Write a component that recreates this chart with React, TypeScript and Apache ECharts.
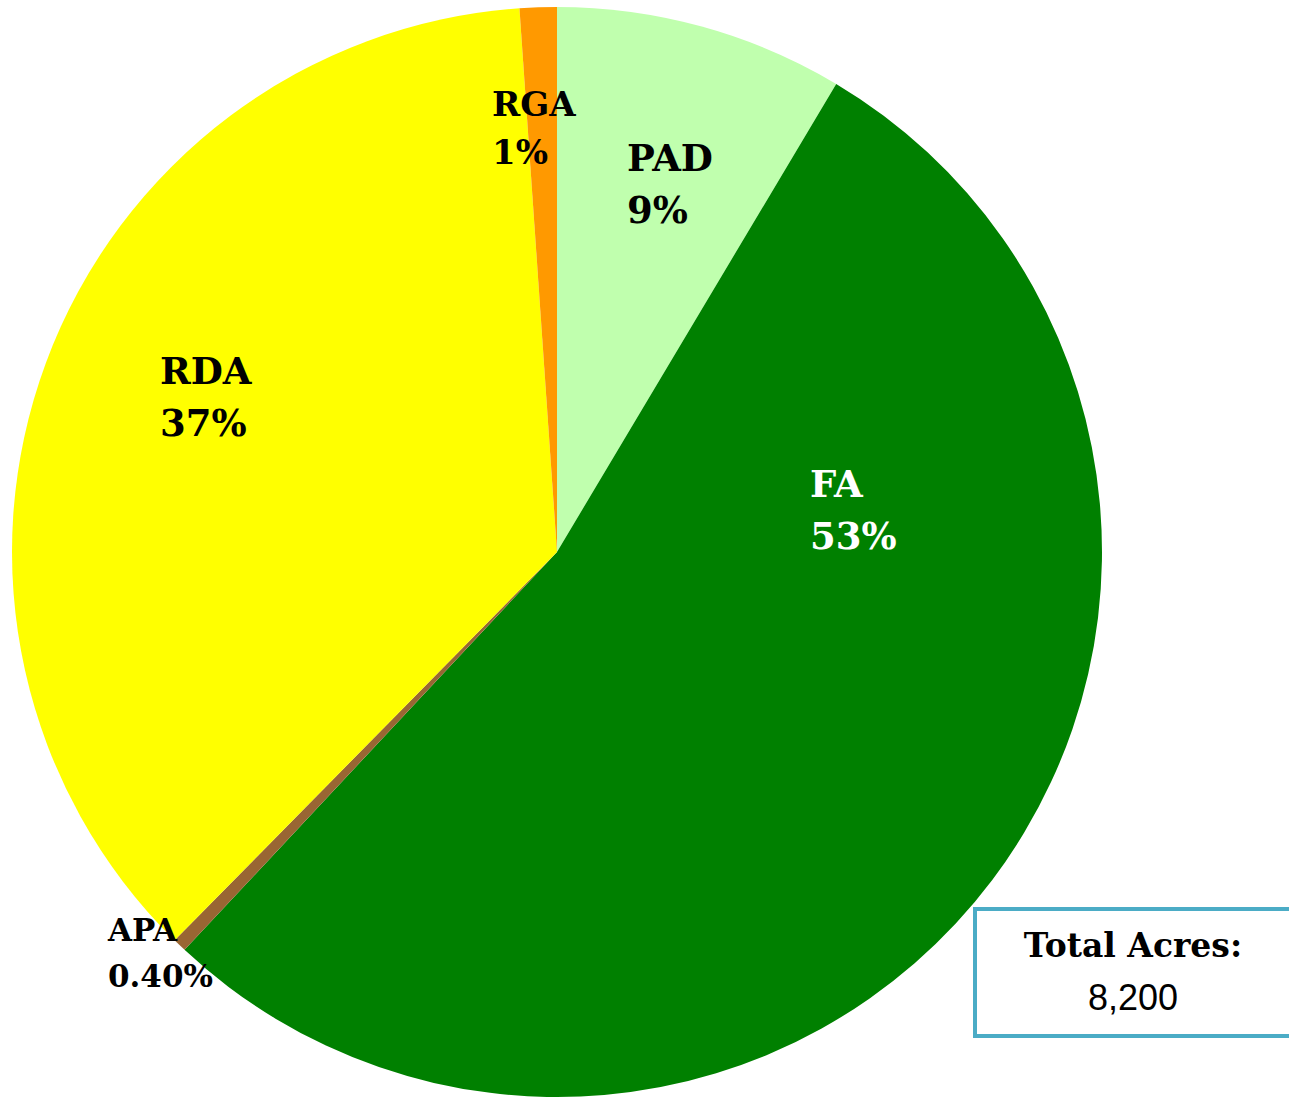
import React, { useEffect, useRef } from "react";
import * as echarts from "echarts";

const categories = ["PAD", "FA", "APA", "RDA", "RGA"];
const acres = [702, 4380, 33, 2995, 90];
const totalAcresLabel = "8,200";

const colors = ["#C0FFAE", "#008000", "#996633", "#FFFF00", "#FF9900"];
const labelColors = ["#000", "#fff", "#000", "#000", "#000"];
const labelSizes = [37, 37, 31, 37, 34];
const labelLineHeights = [52, 52, 46, 52, 48];
const labelPos: [number, number][] = [
  [627, 132],
  [810, 458],
  [108, 907],
  [160, 345],
  [492, 80],
];

export default function App() {
  const ref = useRef<HTMLDivElement>(null);
  useEffect(() => {
    document.body.style.margin = "0";
    const chart = echarts.init(ref.current!, null, { renderer: "svg" });
    const total = acres.reduce((a, b) => a + b, 0);
    const data = categories.map((c, i) => ({
      name: c,
      value: acres[i],
      itemStyle: { color: colors[i] },
      label: {
        color: labelColors[i],
        fontSize: labelSizes[i],
        lineHeight: labelLineHeights[i],
      },
    }));
    chart.setOption({
      animation: false,
      backgroundColor: "#fff",
      series: [
        {
          type: "pie",
          center: [557, 552],
          radius: [0, 545],
          startAngle: 90,
          clockwise: true,
          data,
          itemStyle: { borderWidth: 0 },
          label: {
            show: true,
            position: "inside",
            fontFamily: "DejaVu Serif",
            fontWeight: "bold",
            align: "left",
            formatter: (p: any) => {
              const pct = (p.value / total) * 100;
              const txt = pct < 1 ? pct.toFixed(2) : String(Math.round(pct));
              return p.name + "\n" + txt + "%";
            },
          },
          labelLine: { show: false },
          labelLayout: (params: any) => {
            const pos = labelPos[params.dataIndex];
            return { x: pos[0], y: pos[1], align: "left", verticalAlign: "top" };
          },
          emphasis: { disabled: true },
        },
      ],
      graphic: [
        {
          type: "rect",
          shape: { x: 975, y: 909, width: 330, height: 127 },
          style: { fill: "#fff", stroke: "#4BACC6", lineWidth: 4 },
        },
        {
          type: "text",
          x: 1133,
          y: 945,
          style: {
            text: "Total Acres:",
            fontFamily: "DejaVu Serif",
            fontWeight: "bold",
            fontSize: 33,
            fill: "#000",
            align: "center",
            verticalAlign: "middle",
          },
        },
        {
          type: "text",
          x: 1133,
          y: 997,
          style: {
            text: totalAcresLabel,
            fontFamily: "Liberation Sans",
            fontSize: 36,
            fill: "#000",
            align: "center",
            verticalAlign: "middle",
          },
        },
      ],
    });
    return () => chart.dispose();
  }, []);
  return (
    <div
      ref={ref}
      style={{ position: "absolute", left: 0, top: 0, width: 1289, height: 1099 }}
    />
  );
}
